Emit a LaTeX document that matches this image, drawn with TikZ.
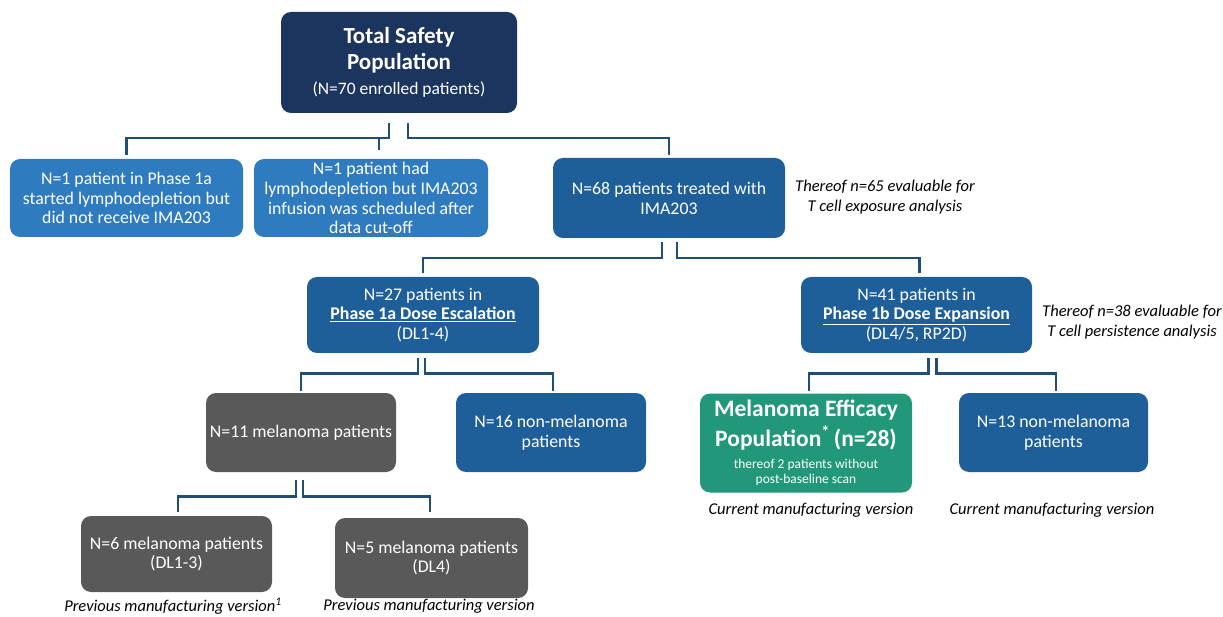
\documentclass[tikz,border=0pt]{standalone}
\usepackage{fontspec}
\setmainfont{Carlito}
\definecolor{navy}{HTML}{1C355E}
\definecolor{lightblue}{HTML}{2E7BC0}
\definecolor{midblue}{HTML}{1F5F99}
\definecolor{greybox}{HTML}{595959}
\definecolor{greenbox}{HTML}{22987A}
\definecolor{linec}{HTML}{1F4E79}
\newcommand\ttlfont{\bfseries\fontsize{23}{26}\selectfont}
\newcommand\subfont{\mdseries\fontsize{17.5}{20}\selectfont}
\newcommand\grnfont{\bfseries\fontsize{23.5}{27}\selectfont}
\newcommand\smlfont{\mdseries\fontsize{13.5}{15.5}\selectfont}
\tikzset{
  box/.style={rounded corners=10pt, align=center, inner sep=0pt, text=white,
    font=\fontsize{17.8}{19.8}\selectfont},
  conn/.style={draw=linec, line width=2.6pt},
  note/.style={font=\itshape\fontsize{16.5}{20}\selectfont, align=center, text=black, inner sep=0pt}
}
\begin{document}
\begin{tikzpicture}[x=1pt,y=-1pt]
\useasboundingbox[fill=white] (0,0) rectangle (1223,617);
% boxes
\node[box, fill=navy, minimum width=236pt, minimum height=101pt] (top) at (399,62.5)
  {\ttlfont Total Safety\\[6pt]\ttlfont Population\\[5pt]\subfont (N=70 enrolled patients)};
\node[box, fill=lightblue, minimum width=233pt, minimum height=78pt] (b1) at (126.5,198)
  {N=1 patient in Phase 1a\\started lymphodepletion but\\did not receive IMA203};
\node[box, fill=lightblue, minimum width=234pt, minimum height=78pt] (b2) at (371,198)
  {N=1 patient had\\lymphodepletion but IMA203\\infusion was scheduled after\\data cut-off};
\node[box, fill=midblue, minimum width=232pt, minimum height=80pt] (b3) at (669,198)
  {N=68 patients treated with\\IMA203};
\node[box, fill=midblue, minimum width=232pt, minimum height=76pt] (b4) at (423,315)
  {N=27 patients in\\\textbf{\underline{Phase 1a Dose Escalation}}\\(DL1-4)};
\node[box, fill=midblue, minimum width=231pt, minimum height=76pt] (b5) at (916.5,315)
  {N=41 patients in\\\textbf{\underline{Phase 1b Dose Expansion}}\\(DL4/5, RP2D)};
\node[box, fill=greybox, minimum width=190pt, minimum height=79pt] (b6) at (301,432.5)
  {N=11 melanoma patients};
\node[box, fill=midblue, minimum width=190pt, minimum height=79pt] (b7) at (551,432.5)
  {N=16 non-melanoma\\patients};
\node[box, fill=greenbox, minimum width=212pt, minimum height=99pt] (b8) at (806,443)
  {\grnfont Melanoma Efficacy\\[4pt]\grnfont Population\textsuperscript{*}\,(n=28)\\[3pt]\smlfont thereof 2 patients without\\[-5pt]\smlfont post-baseline scan};
\node[box, fill=midblue, minimum width=189pt, minimum height=79pt] (b9) at (1053.5,432.5)
  {N=13 non-melanoma\\patients};
\node[box, fill=greybox, minimum width=191pt, minimum height=76pt] (b10) at (176.5,554)
  {N=6 melanoma patients\\(DL1-3)};
\node[box, fill=greybox, minimum width=193pt, minimum height=80pt] (b11) at (431.5,558)
  {N=5 melanoma patients\\(DL4)};
% notes
\node[note] (n1) at (885,197) {Thereof n=65 evaluable for\\T cell exposure analysis};
\node[note] (n2) at (1132,322) {Thereof n=38 evaluable for\\T cell persistence analysis};
\node[note] (n3) at (811,510) {Current manufacturing version};
\node[note] (n4) at (1052,510) {Current manufacturing version};
\node[note] (n5) at (173,606) {Previous manufacturing version\textsuperscript{1}};
\node[note] (n6) at (429,606) {Previous manufacturing version};
% connectors
\draw[conn] ([xshift=-10pt,yshift=-10pt]top.south) -- ++(0,15) -| ([yshift=4pt]b1.north);
\draw[conn] ([xshift=8pt,yshift=21pt]b2.north) -- ([xshift=8pt,yshift=9pt]b2.north);
\draw[conn] ([xshift=9pt,yshift=-10pt]top.south) -- ++(0,15) -| ([yshift=3pt]b3.north);
\draw[conn] ([xshift=-7pt,yshift=-4pt]b3.south) -- ++(0,16) -| ([yshift=4pt]b4.north);
\draw[conn] ([xshift=8pt,yshift=-4pt]b3.south) -- ++(0,16) -| ([xshift=3pt,yshift=4pt]b5.north);
\draw[conn] ([xshift=-5pt,yshift=-5pt]b4.south) -- ++(0,15) -| ([yshift=2pt]b6.north);
\draw[conn] ([xshift=2pt,yshift=-5pt]b4.south) -- ++(0,15) -| ([xshift=2pt,yshift=2pt]b7.north);
\draw[conn] ([xshift=12pt,yshift=-5pt]b5.south) -- ++(0,15) -| ([xshift=3pt,yshift=2pt]b8.north);
\draw[conn] ([xshift=20pt,yshift=-5pt]b5.south) -- ++(0,15) -| ([xshift=2.5pt,yshift=2pt]b9.north);
\draw[conn] ([xshift=-5pt,yshift=-8pt]b6.south) -- ++(0,16) -| ([xshift=1.5pt,yshift=4pt]b10.north);
\draw[conn] ([xshift=2pt,yshift=-8pt]b6.south) -- ++(0,16) -| ([xshift=-1.5pt,yshift=6pt]b11.north);
\end{tikzpicture}
\end{document}
